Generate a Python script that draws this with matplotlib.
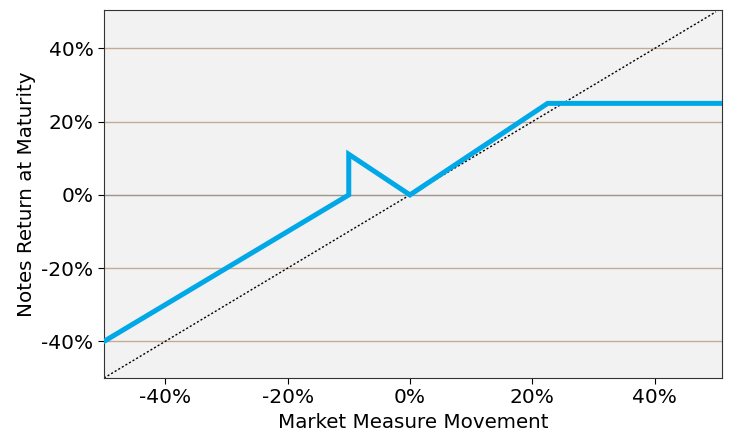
import matplotlib.pyplot as plt
from matplotlib.ticker import FuncFormatter

# payoff profile (percent)
market_move = [-50, -10, -10, 0, 22.5, 52]
notes_return = [-40, 0, 11.1, 0, 25, 25]
diag = [-50, 50]
x_ticks = [-40, -20, 0, 20, 40]
y_ticks = [-40, -20, 0, 20, 40]

fig = plt.figure(figsize=(7.3, 4.4), dpi=100)
ax = fig.add_axes([104 / 730, 62 / 440, 618 / 730, 368 / 440])
ax.set_facecolor('#f2f2f2')

for y in y_ticks:
    ax.axhline(y, color='#9c948f' if y == 0 else '#c4ab98', lw=1, zorder=1,
               snap=True)

ax.plot(diag, diag, color='black', ls=(0, (1.5, 1.5)), lw=1, zorder=2)
ax.plot(market_move, notes_return, color='#00a8e8', lw=3.6, zorder=3,
        solid_joinstyle='miter')

ax.set_xlim(-50, 51)
ax.set_ylim(-50, 50.5)
ax.set_xticks(x_ticks)
ax.set_yticks(y_ticks)
pct = FuncFormatter(lambda v, _: '%d%%' % v)
ax.xaxis.set_major_formatter(pct)
ax.yaxis.set_major_formatter(pct)
ax.tick_params(labelsize=14.5, length=4)
ax.set_xlabel('Market Measure Movement', fontsize=14.3)
ax.set_ylabel('Notes Return at Maturity', fontsize=14.3)
for s in ax.spines.values():
    s.set_color('#333333')

fig.savefig('out.png', dpi=100)
